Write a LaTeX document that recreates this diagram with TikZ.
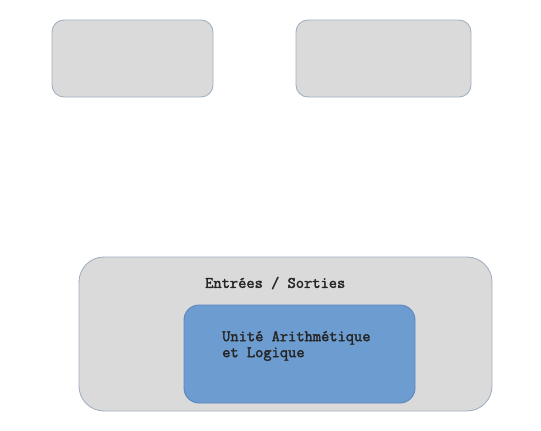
\documentclass[tikz,border=0pt]{standalone}
\usepackage{fontspec}
\newfontfamily\labelfont{Latin Modern Mono}[FakeBold=2.2]
\begin{document}
\begin{tikzpicture}[x=1pt,y=-1pt,
  graybox/.style={draw=boxedge,fill=boxgray,line width=0.9pt,inner sep=0pt},
  bluebox/.style={draw=blueedge,fill=boxblue,line width=0.9pt,inner sep=0pt},
  label/.style={font=\labelfont\fontsize{16}{16}\selectfont,text=black!85,inner sep=0pt}]
\definecolor{boxgray}{HTML}{DADADA}
\definecolor{boxedge}{HTML}{A3B0C2}
\definecolor{boxblue}{HTML}{6C9CD0}
\definecolor{blueedge}{HTML}{5B86BC}
\useasboundingbox (0,0) rectangle (541,431);
\node[graybox,rounded corners=12pt,minimum width=161pt,minimum height=77pt] (tl) at (132.5,58.5) {};
\node[graybox,rounded corners=12pt,minimum width=175pt,minimum height=77pt] (tr) at (383.5,58.5) {};
\node[graybox,rounded corners=25pt,minimum width=413pt,minimum height=154pt] (io) at (285.5,334) {};
\node[bluebox,rounded corners=15pt,minimum width=231pt,minimum height=98pt] (alu) at (299.5,354) {};
\node[label,anchor=west] (iolabel) at (205,283) {Entrées / Sorties};
\node[label,anchor=west,align=left] (alulabel) at (222,346) {Unité Arithmétique\\et Logique};
\end{tikzpicture}
\end{document}
